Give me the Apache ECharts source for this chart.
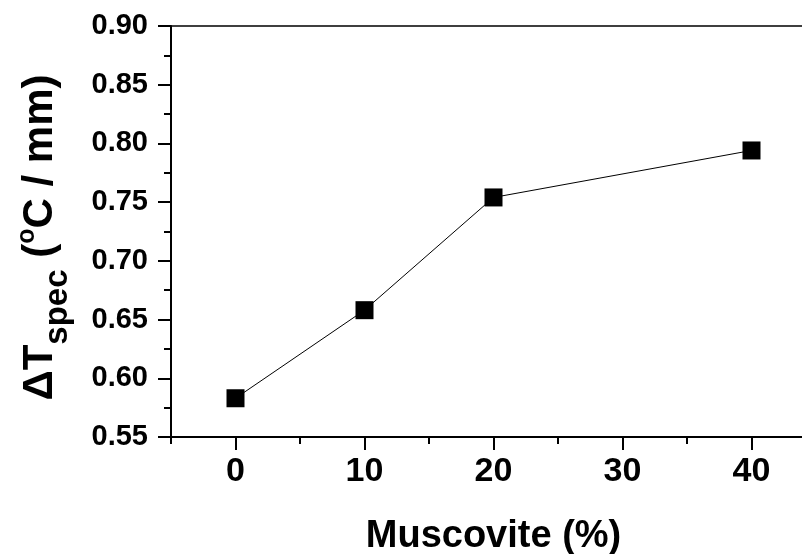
<!DOCTYPE html>
<html>
<head>
<meta charset="utf-8">
<script src="https://cdn.jsdelivr.net/npm/echarts@6/dist/echarts.min.js"></script>
<style>
  html, body { margin: 0; padding: 0; background: #fff; }
  #chart { width: 802px; height: 554px; }
</style>
</head>
<body>
<div id="chart"></div>
<script>
// muscovite content (%) and specific temperature drop
const muscovite = [0, 10, 20, 40];
const deltaT = [0.583, 0.658, 0.754, 0.794];
const xMajorTicks = [0, 10, 20, 30, 40];
const xMinorTicks = [-5, 5, 15, 25, 35, 45];

const font = 'Liberation Sans, Arial, sans-serif';
const chart = echarts.init(document.getElementById('chart'));

chart.setOption({
    animation: false,
    backgroundColor: '#fff',
    grid: { left: 171, top: 26, right: -14, bottom: 117, containLabel: false, outerBoundsMode: 'none' },
    xAxis: [
        {
            type: 'value', position: 'bottom', min: -5, max: 45,
            splitLine: { show: false },
            axisLine: { onZero: false, lineStyle: { color: '#000', width: 2 } },
            axisTick: { customValues: xMajorTicks, length: 13, lineStyle: { color: '#000', width: 2 } },
            axisLabel: {
                customValues: xMajorTicks, margin: 18,
                color: '#000', fontFamily: font, fontWeight: 'bold', fontSize: 34
            },
            name: 'Muscovite (%)', nameLocation: 'middle', nameGap: 81,
            nameTextStyle: { color: '#000', fontFamily: font, fontWeight: 'bold', fontSize: 38 }
        },
        {
            type: 'value', position: 'bottom', min: -5, max: 45,
            splitLine: { show: false },
            axisLine: { show: false, onZero: false },
            axisTick: { customValues: xMinorTicks, length: 7, lineStyle: { color: '#000', width: 2 } },
            axisLabel: { show: false }
        },
        {
            type: 'value', position: 'top', min: -5, max: 45,
            splitLine: { show: false },
            axisLine: { onZero: false, lineStyle: { color: '#000', width: 1.5 } },
            axisTick: { show: false },
            axisLabel: { show: false }
        }
    ],
    yAxis: {
        type: 'value', min: 0.55, max: 0.90, interval: 0.05,
        splitLine: { show: false },
        axisLine: { show: true, onZero: false, lineStyle: { color: '#000', width: 2 } },
        axisTick: { show: true, length: 13, lineStyle: { color: '#000', width: 2 } },
        minorTick: { show: true, splitNumber: 2, length: 7, lineStyle: { color: '#000', width: 2 } },
        axisLabel: {
            margin: 23, color: '#000', fontFamily: font, fontWeight: 'bold', fontSize: 29,
            formatter: v => v.toFixed(2)
        },
        name: '{m|ΔT}{sub|spec}{m| (}{sup|o}{m|C / mm)}',
        nameLocation: 'middle', nameRotate: 90, nameGap: 97,
        nameTextStyle: {
            color: '#000', fontFamily: font, fontWeight: 'bold',
            padding: [0, 12, 0, 0],
            rich: {
                m: { fontSize: 42, fontFamily: font, fontWeight: 'bold', color: '#000' },
                sub: { fontSize: 33, fontFamily: font, fontWeight: 'bold', color: '#000', padding: [34, 0, 0, 0] },
                sup: { fontSize: 25, fontFamily: font, fontWeight: 'bold', color: '#000', padding: [0, 0, 26, 0] }
            }
        }
    },
    series: [{
        type: 'line',
        data: muscovite.map((m, i) => [m, deltaT[i]]),
        symbol: 'rect', symbolSize: 18,
        lineStyle: { color: '#000', width: 1 },
        itemStyle: { color: '#000' }
    }]
});
</script>
</body>
</html>
